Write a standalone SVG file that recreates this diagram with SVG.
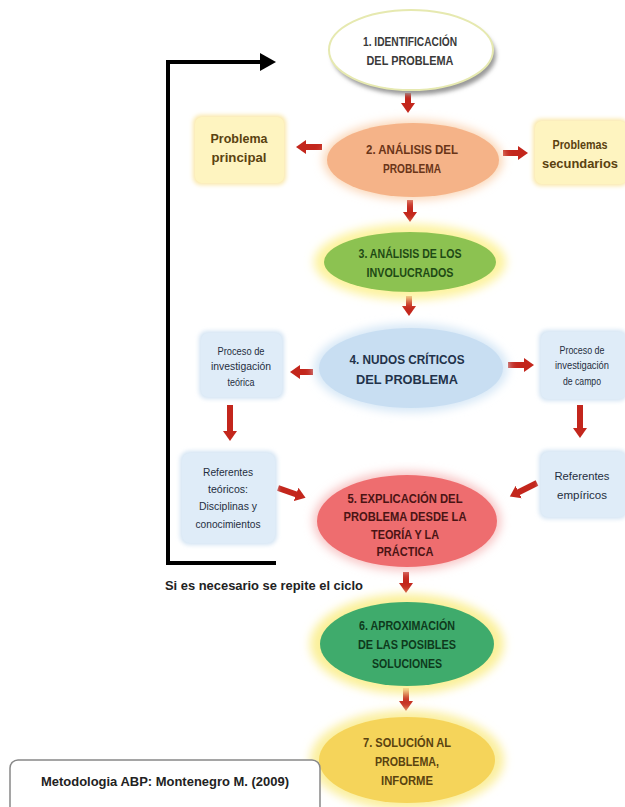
<svg xmlns="http://www.w3.org/2000/svg" width="625" height="807" viewBox="0 0 625 807">
<defs>
<style>
.t{font-family:"Liberation Sans",Arial,sans-serif;font-weight:bold;font-size:12px;text-anchor:middle}
.s{font-family:"Liberation Sans",Arial,sans-serif;font-size:10px;text-anchor:middle;fill:#1f2e40}
.b{font-family:"Liberation Sans",Arial,sans-serif;font-weight:bold;font-size:12px;text-anchor:middle;fill:#5a4210}
.r{stroke:#c3261c;stroke-width:6;fill:none;marker-end:url(#rh)}
</style>
<filter id="blur" x="-30%" y="-30%" width="160%" height="160%"><feGaussianBlur stdDeviation="5"/></filter>
<filter id="soft" x="-20%" y="-20%" width="140%" height="140%"><feGaussianBlur stdDeviation="2"/></filter>
<marker id="rh" markerUnits="userSpaceOnUse" markerWidth="12" markerHeight="14" refX="2" refY="7" orient="auto">
<polygon points="0,0 10,7 0,14" fill="#c3261c"/>
</marker>
<marker id="kh" markerUnits="userSpaceOnUse" markerWidth="16" markerHeight="18" refX="2" refY="9" orient="auto">
<polygon points="0,0 16,9 0,18" fill="#000"/>
</marker>
</defs>
<rect width="625" height="807" fill="#fff"/>

<g id="loop">
<polyline points="276,563 168,563 168,62 262,62" fill="none" stroke="#000" stroke-width="4" marker-end="url(#kh)"/>
<text x="165" y="590" font-family="Liberation Sans,Arial,sans-serif" font-weight="bold" font-size="13" fill="#222" textLength="198" lengthAdjust="spacingAndGlyphs">Si es necesario se repite el ciclo</text>
</g>

<g id="connectors">
<line class="r" x1="408" y1="93" x2="408" y2="105"/>
<line class="r" x1="322" y1="147" x2="304" y2="147"/>
<line class="r" x1="503" y1="153" x2="520" y2="153"/>
<line class="r" x1="410" y1="200" x2="410" y2="214"/>
<line class="r" x1="409" y1="296" x2="409" y2="308"/>
<line class="r" x1="313" y1="372" x2="298" y2="372"/>
<line class="r" x1="508" y1="365" x2="526" y2="365"/>
<line class="r" x1="230" y1="405" x2="230" y2="433"/>
<line class="r" x1="580" y1="405" x2="580" y2="430"/>
<line class="r" x1="278" y1="488" x2="298" y2="495"/>
<line class="r" x1="537" y1="483" x2="517" y2="493"/>
<line class="r" x1="406" y1="572" x2="406" y2="585"/>
<line class="r" x1="406" y1="688" x2="406" y2="703"/>
</g>

<g id="n1">
<ellipse cx="414" cy="55" rx="82" ry="40" fill="#999" filter="url(#soft)"/>
<ellipse cx="411" cy="50" rx="82" ry="40" fill="#fff" stroke="#e6e9b0" stroke-width="2"/>
<text class="t" x="410" y="46" fill="#3a3a3a" textLength="94" lengthAdjust="spacingAndGlyphs">1. IDENTIFICACIÓN</text>
<text class="t" x="410" y="65" fill="#3a3a3a" textLength="87" lengthAdjust="spacingAndGlyphs">DEL PROBLEMA</text>
</g>

<g id="n2">
<ellipse cx="413" cy="160" rx="90" ry="40" fill="#fbd7b8" filter="url(#blur)"/>
<ellipse cx="413" cy="160" rx="86" ry="37" fill="#f5b388"/>
<text class="t" x="412" y="154" fill="#6a3518" textLength="92" lengthAdjust="spacingAndGlyphs">2. ANÁLISIS DEL</text>
<text class="t" x="412" y="173" fill="#6a3518" textLength="58" lengthAdjust="spacingAndGlyphs">PROBLEMA</text>
</g>

<g id="pp">
<rect x="193" y="115" width="93" height="70" rx="8" fill="#fae7a8" filter="url(#soft)"/>
<rect x="195" y="117" width="89" height="66" rx="7" fill="#fef4c0"/>
<text class="b" x="239" y="143" textLength="57" lengthAdjust="spacingAndGlyphs">Problema</text>
<text class="b" x="239" y="162" textLength="55" lengthAdjust="spacingAndGlyphs">principal</text>
</g>

<g id="ps">
<rect x="533" y="119" width="95" height="67" rx="8" fill="#fae7a8" filter="url(#soft)"/>
<rect x="535" y="121" width="92" height="63" rx="7" fill="#fef4c0"/>
<text class="b" x="580" y="149" textLength="55" lengthAdjust="spacingAndGlyphs">Problemas</text>
<text class="b" x="580" y="168" textLength="76" lengthAdjust="spacingAndGlyphs">secundarios</text>
</g>

<g id="n3">
<ellipse cx="410" cy="262" rx="96" ry="38" fill="#fdf3a0" filter="url(#blur)"/>
<ellipse cx="410" cy="262" rx="86" ry="30" fill="#8cc251"/>
<text class="t" x="410" y="258" fill="#1f4a15" textLength="103" lengthAdjust="spacingAndGlyphs">3. ANÁLISIS DE LOS</text>
<text class="t" x="410" y="277" fill="#1f4a15" textLength="87" lengthAdjust="spacingAndGlyphs">INVOLUCRADOS</text>
</g>

<g id="n4">
<ellipse cx="411" cy="368" rx="97" ry="44" fill="#d6e7f6" filter="url(#blur)"/>
<ellipse cx="411" cy="368" rx="92" ry="40" fill="#c8def2"/>
<text class="t" x="407" y="364" fill="#22324a" textLength="115" lengthAdjust="spacingAndGlyphs">4. NUDOS CRÍTICOS</text>
<text class="t" x="407" y="384" fill="#22324a" textLength="102" lengthAdjust="spacingAndGlyphs">DEL PROBLEMA</text>
</g>

<g id="pt">
<rect x="199" y="331" width="85" height="68" rx="8" fill="#d2e3f3" filter="url(#soft)"/>
<rect x="201" y="333" width="81" height="64" rx="7" fill="#dfecf8"/>
<text class="s" x="241" y="355" textLength="47" lengthAdjust="spacingAndGlyphs">Proceso de</text>
<text class="s" x="241" y="370" textLength="60" lengthAdjust="spacingAndGlyphs">investigación</text>
<text class="s" x="241" y="386" textLength="27" lengthAdjust="spacingAndGlyphs">teórica</text>
</g>

<g id="pc">
<rect x="539" y="330" width="88" height="71" rx="8" fill="#d2e3f3" filter="url(#soft)"/>
<rect x="541" y="332" width="85" height="67" rx="7" fill="#dfecf8"/>
<text class="s" x="582" y="354" textLength="45" lengthAdjust="spacingAndGlyphs">Proceso de</text>
<text class="s" x="582" y="369" textLength="54" lengthAdjust="spacingAndGlyphs">investigación</text>
<text class="s" x="582" y="385" textLength="38" lengthAdjust="spacingAndGlyphs">de campo</text>
</g>

<g id="rt">
<rect x="180" y="451" width="97" height="94" rx="9" fill="#d2e3f3" filter="url(#soft)"/>
<rect x="182" y="453" width="93" height="90" rx="8" fill="#dfecf8"/>
<text class="s" x="228" y="476" font-size="11" textLength="50" lengthAdjust="spacingAndGlyphs">Referentes</text>
<text class="s" x="228" y="493" font-size="11" textLength="40" lengthAdjust="spacingAndGlyphs">teóricos:</text>
<text class="s" x="228" y="510" font-size="11" textLength="58" lengthAdjust="spacingAndGlyphs">Disciplinas y</text>
<text class="s" x="228" y="528" font-size="11" textLength="65" lengthAdjust="spacingAndGlyphs">conocimientos</text>
</g>

<g id="re">
<rect x="539" y="450" width="88" height="69" rx="8" fill="#d2e3f3" filter="url(#soft)"/>
<rect x="541" y="452" width="85" height="65" rx="7" fill="#dfecf8"/>
<text class="s" x="582" y="480" font-size="11" textLength="55" lengthAdjust="spacingAndGlyphs">Referentes</text>
<text class="s" x="582" y="499" font-size="11" textLength="50" lengthAdjust="spacingAndGlyphs">empíricos</text>
</g>

<g id="n5">
<ellipse cx="407" cy="521" rx="94" ry="50" fill="#f8c6c6" filter="url(#blur)"/>
<ellipse cx="407" cy="521" rx="90" ry="46" fill="#ee6d6f"/>
<text class="t" x="405" y="503" fill="#4a1414" textLength="115" lengthAdjust="spacingAndGlyphs">5. EXPLICACIÓN DEL</text>
<text class="t" x="405" y="521" fill="#4a1414" textLength="123" lengthAdjust="spacingAndGlyphs">PROBLEMA DESDE LA</text>
<text class="t" x="405" y="539" fill="#4a1414" textLength="68" lengthAdjust="spacingAndGlyphs">TEORÍA Y LA</text>
<text class="t" x="405" y="556" fill="#4a1414" textLength="57" lengthAdjust="spacingAndGlyphs">PRÁCTICA</text>
</g>

<g id="n6">
<ellipse cx="407" cy="644" rx="97" ry="50" fill="#fbf09a" filter="url(#blur)"/>
<ellipse cx="407" cy="644" rx="87" ry="42" fill="#3fab6c"/>
<text class="t" x="407" y="630" fill="#0e3a1c" textLength="96" lengthAdjust="spacingAndGlyphs">6. APROXIMACIÓN</text>
<text class="t" x="407" y="649" fill="#0e3a1c" textLength="98" lengthAdjust="spacingAndGlyphs">DE LAS POSIBLES</text>
<text class="t" x="407" y="668" fill="#0e3a1c" textLength="70" lengthAdjust="spacingAndGlyphs">SOLUCIONES</text>
</g>

<g id="n7">
<ellipse cx="407" cy="760" rx="97" ry="50" fill="#fbef9f" filter="url(#blur)"/>
<ellipse cx="407" cy="760" rx="88" ry="43" fill="#f5d45a"/>
<text class="t" x="407" y="747" fill="#5a4310" textLength="88" lengthAdjust="spacingAndGlyphs">7. SOLUCIÓN AL</text>
<text class="t" x="407" y="766" fill="#5a4310" textLength="64" lengthAdjust="spacingAndGlyphs">PROBLEMA,</text>
<text class="t" x="407" y="785" fill="#5a4310" textLength="52" lengthAdjust="spacingAndGlyphs">INFORME</text>
</g>

<g id="cite">
<rect x="10" y="760" width="310" height="60" rx="8" fill="#fff" stroke="#888" stroke-width="1.5"/>
<text x="165" y="786" font-family="Liberation Sans,Arial,sans-serif" font-weight="bold" font-size="13" text-anchor="middle" fill="#222" textLength="248" lengthAdjust="spacingAndGlyphs">Metodologia ABP: Montenegro M. (2009)</text>
</g>
</svg>
